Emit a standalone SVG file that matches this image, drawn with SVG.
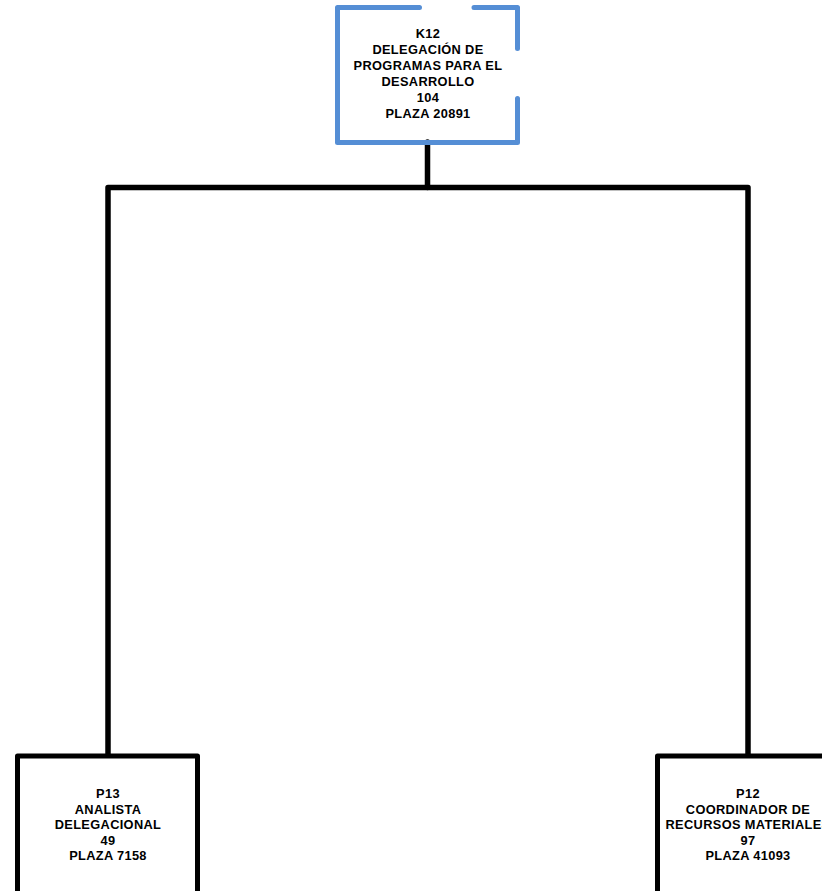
<svg xmlns="http://www.w3.org/2000/svg" width="822" height="891" viewBox="0 0 822 891">
<style>
.t{font-family:"Liberation Sans",Arial,sans-serif;font-weight:bold;font-size:12.8px;letter-spacing:0.35px;text-anchor:middle;fill:#000}
.blue{fill:none;stroke:#558ED5;stroke-width:5;stroke-linecap:round;stroke-linejoin:round}
.box{fill:#fff;stroke:#000;stroke-width:5;stroke-linejoin:round}
.conn{fill:none;stroke:#000;stroke-width:5.5;stroke-linecap:round;stroke-linejoin:round}
</style>
<rect width="822" height="891" fill="#fff"/>
<g id="connectors">
<line class="conn" x1="427.5" y1="142" x2="427.5" y2="187.5"/>
<polyline class="conn" points="108,756 108,187.5 748,187.5 748,756"/>
</g>
<g id="node-k12">
<path class="blue" d="M419.5,7.5 H337.5 V142.5 H517.5 V98.5"/>
<path class="blue" d="M517.5,48.5 V7.5 H474"/>
<text class="t" x="428" y="38">K12</text>
<text class="t" x="428" y="54">DELEGACIÓN DE</text>
<text class="t" x="428" y="70">PROGRAMAS PARA EL</text>
<text class="t" x="428" y="86">DESARROLLO</text>
<text class="t" x="428" y="102">104</text>
<text class="t" x="428" y="118">PLAZA 20891</text>
</g>
<g id="node-p13">
<path class="box" d="M17.5,900 V756 H197.5 V900"/>
<text class="t" x="108" y="798">P13</text>
<text class="t" x="108" y="813.5">ANALISTA</text>
<text class="t" x="108" y="829">DELEGACIONAL</text>
<text class="t" x="108" y="844.5">49</text>
<text class="t" x="108" y="860">PLAZA 7158</text>
</g>
<g id="node-p12">
<path class="box" d="M657.5,900 V756 H840"/>
<text class="t" x="748" y="798">P12</text>
<text class="t" x="748" y="813.5">COORDINADOR DE</text>
<text class="t" x="748" y="829">RECURSOS MATERIALES</text>
<text class="t" x="748" y="844.5">97</text>
<text class="t" x="748" y="860">PLAZA 41093</text>
</g>
</svg>
